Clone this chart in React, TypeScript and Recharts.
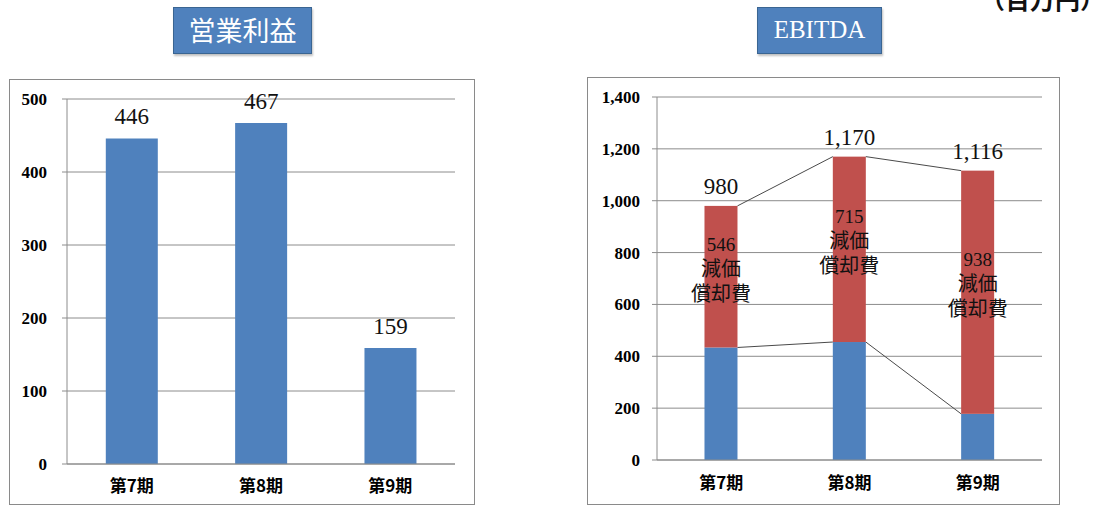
import React from 'react';
import { BarChart, Bar, XAxis, YAxis, CartesianGrid, LabelList } from 'recharts';

// ---- data ----
const categories = ['第7期', '第8期', '第9期'];
const operatingProfit = [446, 467, 159];
const ebitdaOperating = [434, 455, 178];
const depreciation = [546, 715, 938];
const ebitdaTotal = [980, 1170, 1116];
const leftTicks = [0, 100, 200, 300, 400, 500];
const rightTicks = [0, 200, 400, 600, 800, 1000, 1200, 1400];
const edgeTicks = [0, 1, 2, 3];
const depLine1 = '減価';
const depLine2 = '償却費';
const leftTitle = '営業利益';
const rightTitle = 'EBITDA';
const unitText = '（百万円）';

const leftData = categories.map((c, i) => ({ name: c, value: operatingProfit[i] }));
const rightData = categories.map((c, i) => ({
  name: c,
  op: ebitdaOperating[i],
  dep: depreciation[i],
  total: ebitdaTotal[i],
}));

// ---- styles ----
const BLUE = '#4f81bd';
const RED = '#c0504d';
const GRID = '#8c8c8c';
const SERIF = '"Liberation Serif", "Times New Roman", "Noto Sans CJK JP", serif';
const CJK = '"Noto Sans CJK JP", sans-serif';
const fmt = (v: any) => Number(v).toLocaleString('en-US');

type Store = { prev: null | { x: number; y: number; width: number } };

const makeSeriesLineShape = (store: Store) => (props: any) => {
  const { x, y, width, height, fill, index } = props;
  if (index === 0) store.prev = null;
  const prev = store.prev;
  store.prev = { x, y, width };
  return (
    <g>
      <rect x={x} y={y} width={width} height={height} fill={fill} />
      {prev && (
        <line x1={prev.x + prev.width} y1={prev.y} x2={x} y2={y} stroke="#4a4a4a" strokeWidth={1} />
      )}
    </g>
  );
};

const blueStore: Store = { prev: null };
const redStore: Store = { prev: null };
const blueShape = makeSeriesLineShape(blueStore);
const redShape = makeSeriesLineShape(redStore);

const DepLabel = (props: any) => {
  const vb = props.viewBox && props.viewBox.width !== undefined ? props.viewBox : props;
  const { x, y, width, height } = vb;
  const cx = x + width / 2;
  const cy = y + height / 2;
  return (
    <text x={cx} y={cy} textAnchor="middle" fontFamily={SERIF} fill="#111">
      <tspan x={cx} dy={-26} fontSize={19}>{props.value}</tspan>
      <tspan x={cx} dy={25} fontSize={20}>{depLine1}</tspan>
      <tspan x={cx} dy={25} fontSize={20}>{depLine2}</tspan>
    </text>
  );
};

const yTick = { fill: '#000', fontSize: 17, fontWeight: 'bold', fontFamily: SERIF };
const xTick = { fill: '#000', fontSize: 17, fontWeight: 'bold', fontFamily: CJK };

const TitleBox = ({ left, width, text, font }: any) => (
  <div
    style={{
      position: 'absolute',
      left,
      top: 7,
      width,
      height: 47,
      boxSizing: 'border-box',
      background: BLUE,
      border: '1.5px solid #3a6592',
      boxShadow: '1px 2px 2px rgba(0,0,0,0.25)',
      color: '#fff',
      fontFamily: font,
      fontSize: font === CJK ? 27 : 25,
      lineHeight: '44px',
      textAlign: 'center',
    }}
  >
    {text}
  </div>
);

export default function App() {
  return (
    <div
      style={{
        position: 'absolute',
        left: 0,
        top: 0,
        width: 1095,
        height: 507,
        overflow: 'hidden',
        background: '#fff',
      }}
    >
      <TitleBox left={173} width={139} text={leftTitle} font={CJK} />
      <TitleBox left={757} width={125} text={rightTitle} font={SERIF} />
      <div
        style={{
          position: 'absolute',
          left: 980,
          top: -15,
          fontFamily: CJK,
          fontWeight: 'bold',
          fontSize: 25,
          lineHeight: '26px',
          color: '#111',
          whiteSpace: 'nowrap',
        }}
      >
        {unitText}
      </div>

      {/* frames */}
      <div
        style={{
          position: 'absolute',
          left: 9,
          top: 79,
          width: 466,
          height: 426,
          boxSizing: 'border-box',
          border: '1.5px solid #8a8a8a',
        }}
      />
      <div
        style={{
          position: 'absolute',
          left: 587,
          top: 77,
          width: 473,
          height: 428,
          boxSizing: 'border-box',
          border: '1.5px solid #8a8a8a',
        }}
      />

      {/* left chart */}
      <div style={{ position: 'absolute', left: 9, top: 79 }}>
        <BarChart
          width={466}
          height={428}
          data={leftData}
          margin={{ top: 20, right: 20, bottom: 0, left: 0 }}
          barCategoryGap="30%"
        >
          <CartesianGrid vertical={false} stroke={GRID} strokeWidth={1} />
          <XAxis
            xAxisId="edges"
            type="number"
            domain={[0, 3]}
            ticks={edgeTicks}
            tick={false}
            axisLine={false}
            tickLine={{ stroke: GRID }}
            tickSize={5}
            height={0}
          />
          <XAxis
            dataKey="name"
            tick={xTick}
            tickLine={false}
            tickSize={0}
            tickMargin={16}
            axisLine={{ stroke: GRID }}
            height={43}
          />
          <YAxis
            domain={[0, 500]}
            ticks={leftTicks}
            width={58}
            tick={yTick}
            tickLine={{ stroke: GRID }}
            axisLine={{ stroke: GRID }}
            tickSize={5}
            tickMargin={15}
          />
          <Bar dataKey="value" fill={BLUE} isAnimationActive={false}>
            <LabelList
              dataKey="value"
              position="top"
              offset={14}
              fill="#111"
              fontSize={23}
              fontFamily={SERIF}
            />
          </Bar>
        </BarChart>
      </div>

      {/* right chart */}
      <div style={{ position: 'absolute', left: 587, top: 77 }}>
        <BarChart
          width={473}
          height={430}
          data={rightData}
          margin={{ top: 20, right: 18, bottom: 0, left: 0 }}
          barCategoryGap="37%"
        >
          <CartesianGrid vertical={false} stroke={GRID} strokeWidth={1} />
          <XAxis
            xAxisId="edges"
            type="number"
            domain={[0, 3]}
            ticks={edgeTicks}
            tick={false}
            axisLine={false}
            tickLine={{ stroke: GRID }}
            tickSize={5}
            height={0}
          />
          <XAxis
            dataKey="name"
            tick={xTick}
            tickLine={false}
            tickSize={0}
            tickMargin={17}
            axisLine={{ stroke: GRID }}
            height={47}
          />
          <YAxis
            domain={[0, 1400]}
            ticks={rightTicks}
            width={70}
            tick={yTick}
            tickFormatter={fmt}
            tickLine={{ stroke: GRID }}
            axisLine={{ stroke: GRID }}
            tickSize={5}
            tickMargin={12}
          />
          <Bar dataKey="op" stackId="e" fill={BLUE} shape={blueShape} isAnimationActive={false} />
          <Bar dataKey="dep" stackId="e" fill={RED} shape={redShape} isAnimationActive={false}>
            <LabelList dataKey="dep" content={DepLabel} />
            <LabelList
              dataKey="total"
              position="top"
              offset={12}
              formatter={fmt}
              fill="#111"
              fontSize={23}
              fontFamily={SERIF}
            />
          </Bar>
        </BarChart>
      </div>
    </div>
  );
}
